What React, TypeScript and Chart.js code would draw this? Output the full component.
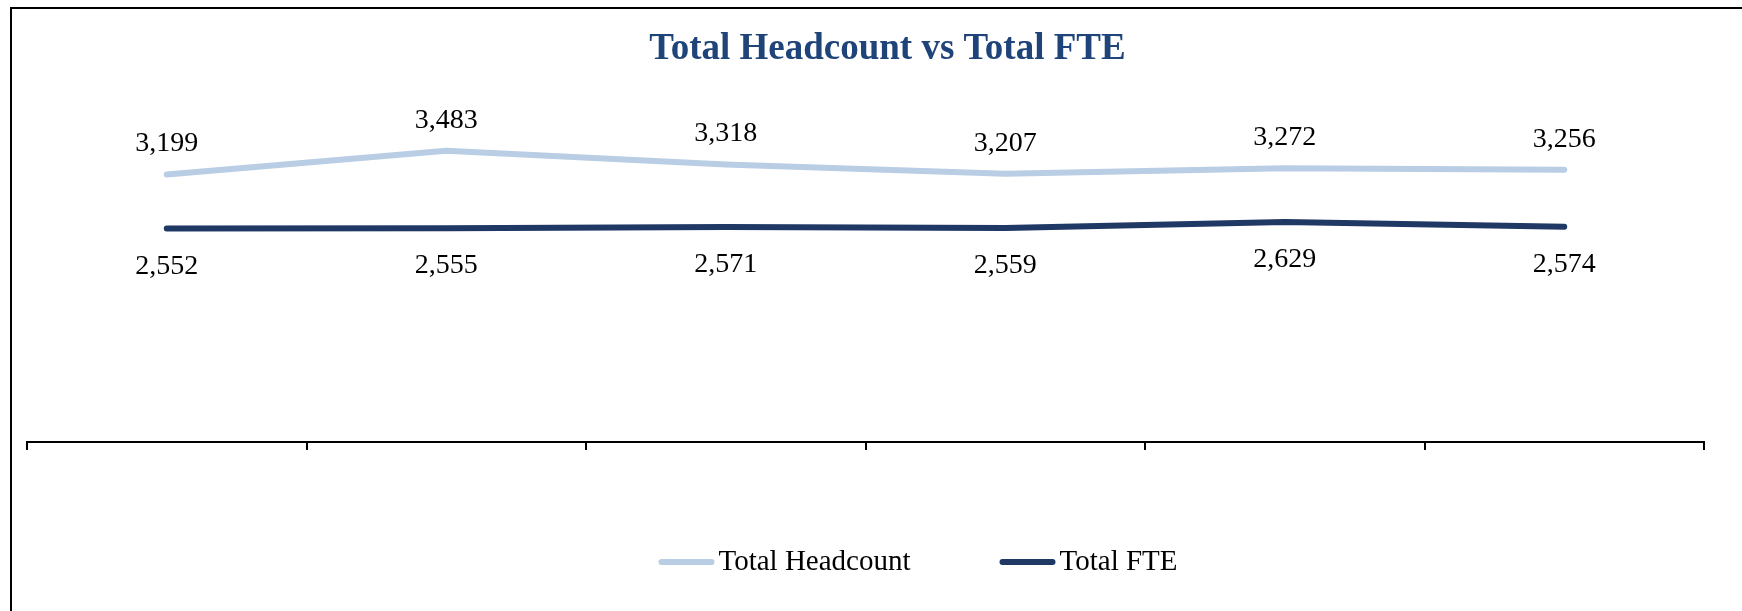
import React, { useEffect, useRef } from "react";
import { Chart, registerables } from "chart.js";

Chart.register(...registerables);

// ---- Data ----
const categories = ["", "", "", "", "", ""];
const headcount = [3199, 3483, 3318, 3207, 3272, 3256];
const fte = [2552, 2555, 2571, 2559, 2629, 2574];
const seriesNames = ["Total Headcount", "Total FTE"];
const titleText = "Total Headcount vs Total FTE";
const yMin = 0;
const yMax = 4000;

// ---- Style ----
const SERIF = "'Liberation Serif', 'Times New Roman', Times, serif";
const COLOR_HEADCOUNT = "#B9CDE5";
const COLOR_FTE = "#1F3864";
const COLOR_TITLE = "#1F4479";
const LEGEND_CENTER_X = 918;
const LEGEND_Y = 562;

const valueLabelPlugin = {
  id: "valueLabels",
  afterDatasetsDraw(chart: any) {
    const ctx = chart.ctx;
    ctx.save();
    ctx.font = `28px ${SERIF}`;
    ctx.fillStyle = "#000";
    ctx.textAlign = "center";
    ctx.textBaseline = "alphabetic";
    chart.data.datasets.forEach((ds: any, di: number) => {
      const meta = chart.getDatasetMeta(di);
      meta.data.forEach((pt: any, i: number) => {
        const v = ds.data[i] as number;
        const y = ds.labelPos === "above" ? pt.y - 23 : pt.y + 45;
        ctx.fillText(v.toLocaleString("en-US"), pt.x, y);
      });
    });
    ctx.restore();
  },
};

const lineLegendPlugin = {
  id: "lineLegend",
  afterDraw(chart: any) {
    const ctx = chart.ctx;
    ctx.save();
    ctx.font = `29px ${SERIF}`;
    const lineVisual = 56;
    const lw = 6;
    const gapText = 4;
    const gapItem = 89;
    const items = chart.data.datasets.map((ds: any) => ({
      text: ds.label as string,
      color: ds.borderColor as string,
      w: ctx.measureText(ds.label).width as number,
    }));
    const total =
      items.reduce((s: number, it: any) => s + lineVisual + gapText + it.w, 0) +
      gapItem * (items.length - 1);
    let x = LEGEND_CENTER_X - total / 2;
    items.forEach((it: any) => {
      ctx.strokeStyle = it.color;
      ctx.lineWidth = lw;
      ctx.lineCap = "round";
      ctx.beginPath();
      ctx.moveTo(x + lw / 2, LEGEND_Y);
      ctx.lineTo(x + lineVisual - lw / 2, LEGEND_Y);
      ctx.stroke();
      x += lineVisual + gapText;
      ctx.fillStyle = "#000";
      ctx.textAlign = "left";
      ctx.textBaseline = "middle";
      ctx.fillText(it.text, x, LEGEND_Y);
      x += it.w + gapItem;
    });
    ctx.restore();
  },
};

export default function App() {
  const ref = useRef<HTMLCanvasElement | null>(null);

  useEffect(() => {
    if (!ref.current) return;
    const chart = new Chart(ref.current, {
      type: "line",
      data: {
        labels: categories,
        datasets: [
          {
            label: seriesNames[0],
            data: headcount,
            borderColor: COLOR_HEADCOUNT,
            backgroundColor: COLOR_HEADCOUNT,
            borderWidth: 6,
            pointRadius: 0,
            pointHoverRadius: 0,
            borderCapStyle: "round",
            borderJoinStyle: "round",
            tension: 0,
            fill: false,
            labelPos: "above",
          } as any,
          {
            label: seriesNames[1],
            data: fte,
            borderColor: COLOR_FTE,
            backgroundColor: COLOR_FTE,
            borderWidth: 6,
            pointRadius: 0,
            pointHoverRadius: 0,
            borderCapStyle: "round",
            borderJoinStyle: "round",
            tension: 0,
            fill: false,
            labelPos: "below",
          } as any,
        ],
      },
      options: {
        responsive: false,
        animation: false,
        devicePixelRatio: 1,
        layout: { padding: { left: 27, right: 12, top: 0, bottom: 161 } },
        scales: {
          x: {
            type: "category",
            offset: true,
            grid: {
              display: true,
              drawOnChartArea: false,
              drawTicks: true,
              tickLength: 8,
              color: "#000",
              lineWidth: 2,
              offset: true,
            },
            border: { display: true, color: "#000", width: 2 },
            ticks: { display: false },
          },
          y: {
            position: "right",
            min: yMin,
            max: yMax,
            display: true,
            grid: { display: false },
            border: { display: false },
            ticks: { display: false },
            afterFit: (scale: any) => {
              scale.width = 44;
            },
          },
        },
        plugins: {
          title: {
            display: true,
            text: titleText,
            color: COLOR_TITLE,
            font: { family: SERIF, size: 37, weight: "bold" },
            padding: { top: 27, bottom: 36 },
          },
          legend: { display: false },
          tooltip: { enabled: false },
        },
      },
      plugins: [valueLabelPlugin, lineLegendPlugin],
    });
    return () => chart.destroy();
  }, []);

  return (
    <div
      style={{
        position: "fixed",
        left: 0,
        top: 0,
        width: 1742,
        height: 611,
        overflow: "hidden",
        background: "#fff",
      }}
    >
      <div
        style={{
          position: "absolute",
          left: 10,
          top: 7,
          width: 1800,
          height: 700,
          border: "2px solid #000",
          boxSizing: "border-box",
        }}
      />
      <canvas
        ref={ref}
        width={1760}
        height={611}
        style={{ position: "absolute", left: 0, top: 0, width: 1760, height: 611 }}
      />
    </div>
  );
}
